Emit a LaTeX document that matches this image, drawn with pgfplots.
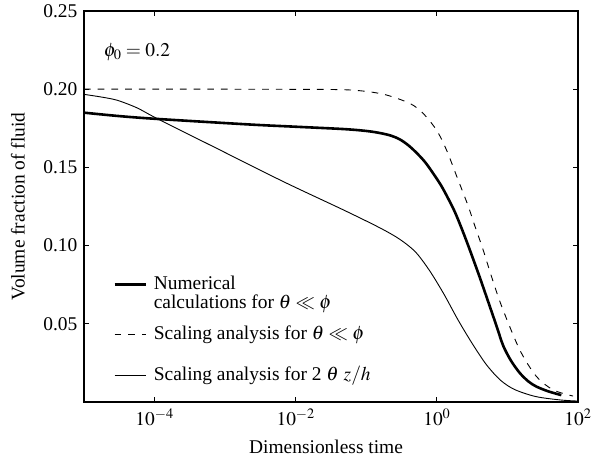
\documentclass[border=0pt]{standalone}
\usepackage{mathptmx}
\usepackage{fontspec}
\setmainfont{Liberation Serif}
\usepackage{pgfplots}
\pgfplotsset{compat=1.18}
\pgfplotsset{legA/.style={legend image code/.code={\draw[##1] (0bp,6bp) -- (31bp,6bp); \path (0bp,15.55bp);}}}

\pgfplotstableread{
x y
1e-5 0.1850
3.16e-5 0.1828
1.08e-4 0.1810
2.29e-3 0.1774
1e-2 0.1760
0.048 0.1745
0.1 0.1733
0.155 0.1720
0.224 0.1703
0.299 0.1679
0.398 0.1640
0.537 0.1585
0.714 0.1522
1.104 0.1397
1.413 0.1310
1.80 0.1215
2.29 0.1100
2.94 0.0971
4.07 0.0795
5.65 0.0609
7.08 0.0480
8.71 0.0360
11.2 0.0265
15.0 0.0185
20.0 0.0130
25.9 0.0098
38.0 0.0068
58.0 0.0044
}\numerical

\pgfplotstableread{
x y
1e-5 0.2000
1e-3 0.2000
1e-2 0.1999
0.0589 0.1995
0.174 0.1968
0.414 0.1909
0.640 0.1845
0.991 0.1738
1.374 0.1610
1.905 0.1445
2.78 0.1253
3.46 0.1125
4.54 0.0971
5.97 0.0800
8.32 0.0610
15.0 0.0332
25.9 0.0162
44.7 0.0077
85.1 0.0038
}\scalingA

\pgfplotstableread{
x y
1e-5 0.1967
1.7e-5 0.1951
2.92e-5 0.1930
5.62e-5 0.1881
1.08e-4 0.1813
7.66e-4 0.1621
6.76e-3 0.1408
0.048 0.1227
0.155 0.1114
0.299 0.1040
0.501 0.0958
0.794 0.0838
1.259 0.0690
1.995 0.0525
3.16 0.0375
5.01 0.0240
7.94 0.0140
12.6 0.0080
25.1 0.0035
56.2 0.0013
100 0.0006
}\scalingB

\begin{document}
\fontsize{19.5}{21}\selectfont
\begin{tikzpicture}[font=\fontsize{19.5}{21}\selectfont]
\begin{axis}[
  at={(84bp,60bp)}, anchor=south west,
  scale only axis, width=494bp, height=391bp,
  xmode=log, xmin=1e-5, xmax=1e2, ymin=0, ymax=0.25,
  xtick={1e-4,1e-2,1,1e2},
  xticklabels={$10^{-4}$,$10^{-2}$,$10^{0}$,$10^{2}$},
  minor xtick={}, minor ytick={},
  ytick={0.05,0.10,0.15,0.20,0.25},
  yticklabels={0.05,0.10,0.15,0.20,0.25},
  tick align=inside, major tick length=5bp,
  axis line style={line width=1.5bp},
  every tick/.style={line width=0.8bp, black},
  xlabel={Dimensionless time},
  ylabel={Volume fraction of fluid},
  xlabel style={at={(axis description cs:0.49,-0.115)}, anchor=center},
  ylabel style={at={(axis description cs:-0.1336,0.5)}, anchor=center},
  legend cell align=left,
  legend image code/.code={\draw[#1] (0bp,6bp) -- (31bp,6bp);},
  legend style={at={(axis description cs:0.0588,0.3043)}, anchor=north west,
    draw=none, fill=none, inner sep=0pt, row sep=32.85bp,
    nodes={inner sep=0pt},
    /tikz/every odd column/.append style={column sep=7bp}},
]
\addplot[black, line width=2.6bp, smooth, tension=0.5] table {\numerical};
\addlegendentry{\smash{\fontsize{19.5}{18.4}\selectfont\begin{tabular}[t]{@{}l@{}}Numerical\\calculations for $\theta \ll \phi$\end{tabular}}}
\addplot[black, line width=0.9bp, smooth, tension=0.5, dash pattern=on 6.7bp off 7bp, legA] table {\scalingA};
\addlegendentry{\smash{Scaling analysis for $\theta \ll \phi$}}
\addplot[black, line width=0.9bp, smooth, tension=0.5] table {\scalingB};
\addlegendentry{\smash{Scaling analysis for 2 $\theta$ $z/h$}}
\node[anchor=base west, inner sep=0pt] at (axis cs:1.9e-5,0.2208) {$\phi_0 = 0.2$};
\end{axis}
\pgfresetboundingbox
\path[use as bounding box] (0,0) rectangle (594bp,462bp);
\end{tikzpicture}
\end{document}
